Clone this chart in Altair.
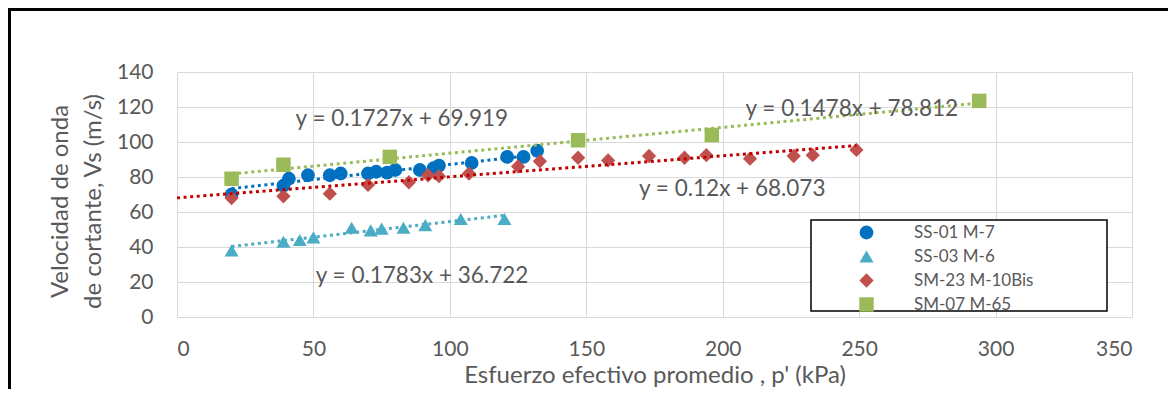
import altair as alt
import pandas as pd

# ---------------- data ----------------
series_names = ["SS-01 M-7", "SS-03 M-6", "SM-23 M-10Bis", "SM-07 M-65"]
marker_colors = ["#0070C0", "#4BACC6", "#C0504D", "#9BBB59"]
marker_shapes = ["circle", "triangle-up", "diamond", "square"]
marker_sizes = [190, 210, 215, 240]
trend_colors = ["#0070C0", "#4BACC6", "#C00000", "#9BBB59"]

ss01_x = [20, 39, 41, 48, 56, 60, 70, 73, 77, 80, 89, 94, 96, 108, 121, 127, 132]
ss01_y = [70, 75, 79, 81, 81, 82, 82, 83, 82.5, 84, 84, 85, 86.5, 88, 91.5, 91.5, 95]

ss03_x = [20, 39, 45, 50, 64, 71, 75, 83, 91, 104, 120]
ss03_y = [38, 43, 44, 45.5, 51, 49.5, 50.5, 51, 52.5, 56, 56]

sm23_x = [20, 39, 56, 70, 85, 92, 96, 107, 125, 133, 147, 158, 173, 186, 194, 210, 226, 233, 249]
sm23_y = [68, 69, 70.5, 75.5, 77, 81, 80.5, 82, 86, 89, 91, 89.5, 92, 91, 92.5, 90.5, 92, 92.5, 95.5]

sm07_x = [20, 39, 78, 147, 196, 294]
sm07_y = [79, 87, 91.5, 101, 104, 123.5]

trend_slope = [0.1727, 0.1783, 0.12, 0.1478]
trend_intercept = [69.919, 36.722, 68.073, 78.812]
trend_x_start = [20, 20, 0, 20]
trend_x_end = [132, 120, 249, 294]

eq_labels = ["y = 0.1727x + 69.919", "y = 0.1783x + 36.722",
             "y = 0.12x + 68.073", "y = 0.1478x + 78.812"]
eq_x = [82.4, 89.8, 203.5, 247.3]
eq_y = [113.0, 23.4, 73.1, 118.9]

x_ticks = [0, 50, 100, 150, 200, 250, 300, 350]
y_ticks = [0, 20, 40, 60, 80, 100, 120, 140]

x_title = "Esfuerzo efectivo promedio , p' (kPa)"
y_title = ["Velocidad de onda", "de cortante, Vs (m/s)"]

FONT = "Lato"
GRAY = "#595959"

# ---------------- tables ----------------
pts_rows = []
for name, xs, ys in zip(series_names, [ss01_x, ss03_x, sm23_x, sm07_x],
                        [ss01_y, ss03_y, sm23_y, sm07_y]):
    for a, b in zip(xs, ys):
        pts_rows.append({"series": name, "x": a, "y": b})
pts = pd.DataFrame(pts_rows)

trend_rows = []
for name, m, c, x0, x1 in zip(series_names, trend_slope, trend_intercept,
                              trend_x_start, trend_x_end):
    for xv in (x0, x1):
        trend_rows.append({"series": name, "x": xv, "y": m * xv + c})
trend = pd.DataFrame(trend_rows)

eqs = pd.DataFrame({"label": eq_labels, "x": eq_x, "y": eq_y})

# ---------------- encodings ----------------
x_enc = alt.X("x:Q", scale=alt.Scale(domain=[0, 350], nice=False, zero=False),
              axis=alt.Axis(values=x_ticks, title=x_title, labelPadding=21,
                            titleFontSize=24, titleBaseline="alphabetic",
                            titleY=65))
y_enc = alt.Y("y:Q", scale=alt.Scale(domain=[0, 140], nice=False),
              axis=alt.Axis(values=y_ticks, title=y_title, labelPadding=24,
                            titleFontSize=24, titleLineHeight=33,
                            titleBaseline="alphabetic", titleX=-110,
                            titleY=129, titleAngle=270))

legend = alt.Legend(orient="none", legendX=681, legendY=152, title=None,
                    symbolSize=150, labelFont=FONT, labelFontSize=17,
                    labelColor=GRAY, labelOffset=39, rowPadding=6, padding=0,
                    symbolStrokeWidth=0, symbolOpacity=1)

points = alt.Chart(pts).mark_point(filled=True, opacity=1, strokeWidth=0).encode(
    x=x_enc, y=y_enc,
    color=alt.Color("series:N", scale=alt.Scale(domain=series_names, range=marker_colors),
                    legend=legend),
    shape=alt.Shape("series:N", scale=alt.Scale(domain=series_names, range=marker_shapes),
                    legend=legend),
    size=alt.Size("series:N", scale=alt.Scale(domain=series_names, range=marker_sizes),
                  legend=None),
)

lines = alt.Chart(trend).mark_line(strokeWidth=3, strokeDash=[3, 3.6]).encode(
    x=x_enc, y=y_enc,
    stroke=alt.Stroke("series:N", scale=alt.Scale(domain=series_names, range=trend_colors),
                      legend=None),
    detail="series:N",
)

labels = alt.Chart(eqs).mark_text(font=FONT, fontSize=22.5, color=GRAY,
                                  align="center", baseline="middle").encode(
    x=x_enc, y=y_enc, text="label:N")

legend_box = alt.Chart(pd.DataFrame({"k": [0]})).mark_rect(
    fill="white", stroke="black", strokeWidth=1.5).encode(
    x=alt.value(634), x2=alt.value(930), y=alt.value(148), y2=alt.value(239))

frame_top = alt.Chart(pd.DataFrame({"k": [0]})).mark_rule(
    color="black", strokeWidth=3).encode(
    x=alt.value(-169), x2=alt.value(1000), y=alt.value(-62.5))
frame_left = alt.Chart(pd.DataFrame({"k": [0]})).mark_rule(
    color="black", strokeWidth=3).encode(
    x=alt.value(-167.5), y=alt.value(-64), y2=alt.value(330))

chart = alt.layer(points, lines, labels, legend_box, frame_top, frame_left).properties(
    width=955, height=245,
    padding={"left": 169, "top": 64, "right": 36, "bottom": 72},
    autosize=alt.AutoSizeParams(type="none"),
    background="white",
).configure_view(stroke=None).configure_axis(
    grid=True, gridColor="#D9D9D9", gridWidth=1, domain=False, ticks=False,
    labelFont=FONT, labelFontSize=21, labelColor=GRAY,
    titleFont=FONT, titleColor=GRAY, titleFontWeight="normal",
)

chart.save("out.html", embed_options={"renderer": "svg", "actions": False})
